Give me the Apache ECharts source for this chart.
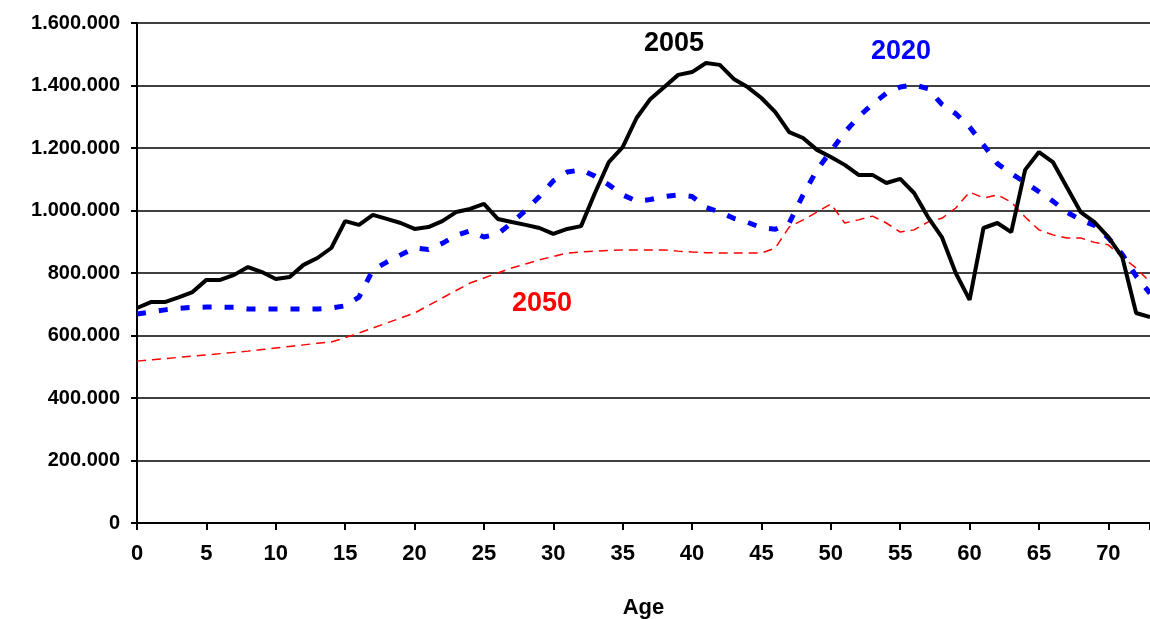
<!DOCTYPE html>
<html>
<head>
<meta charset="utf-8">
<script src="https://cdn.jsdelivr.net/npm/echarts@6/dist/echarts.min.js"></script>
<style>html,body{margin:0;padding:0;background:#fff}#chart{width:1150px;height:619px}</style>
</head>
<body>
<div id="chart"></div>
<script>
// Alter 0..73, Werte in Tausend
const ages = Array.from({length: 74}, (_, i) => i);
const y2005 = [688,707,707,722,739,778,778,794,819,803,781,787,826,848,880,966,954,986,973,960,941,947,966,995,1005,1021,973,963,954,944,925,941,950,1056,1155,1203,1296,1357,1395,1434,1443,1472,1466,1421,1395,1360,1315,1251,1232,1194,1171,1146,1114,1114,1088,1101,1056,979,915,800,714,944,960,931,1130,1187,1155,1075,995,963,915,851,672,659];
const y2020 = [669,675,682,687,690,691,691,690,685,685,685,685,685,685,688,695,723,810,835,858,880,875,895,920,935,915,925,960,1000,1045,1095,1123,1130,1110,1082,1050,1030,1035,1045,1050,1045,1010,995,975,962,945,940,960,1050,1130,1190,1250,1300,1340,1375,1395,1402,1390,1340,1310,1267,1210,1150,1118,1090,1060,1030,995,970,952,912,860,790,735];
const y2050 = [518,522,526,530,534,538,542,546,550,555,560,565,570,575,579,593,608,624,640,656,672,696,720,744,768,784,800,816,829,842,853,864,867,870,872,874,874,874,874,870,867,865,864,864,864,864,880,947,970,995,1021,960,970,982,960,931,938,963,975,1008,1059,1040,1050,1027,979,938,922,912,912,898,890,851,816,771];

const pair = arr => arr.map((v, i) => [ages[i], v * 1000]);
const fmt = v => String(v).replace(/\B(?=(\d{3})+(?!\d))/g, '.');

const chart = echarts.init(document.getElementById('chart'));
const font = 'Liberation Sans, Arial, sans-serif';
chart.setOption({
  animation: false,
  grid: {left: 137, top: 23, right: 0, bottom: 96, outerBoundsMode: 'none', containLabel: false},
  xAxis: {
    type: 'value', min: 0, max: 73, interval: 5,
    name: 'Age', nameLocation: 'middle', nameGap: 74,
    nameTextStyle: {fontFamily: font, fontWeight: 'bold', fontSize: 22, color: '#000'},
    axisLine: {lineStyle: {color: '#000', width: 2}},
    axisTick: {show: true, length: 7, lineStyle: {color: '#000', width: 2}},
    axisLabel: {fontFamily: font, fontWeight: 'bold', fontSize: 22, color: '#000', margin: 20,
      formatter: v => (v % 5 === 0 && v <= 70) ? v : ''},
    splitLine: {show: false}
  },
  yAxis: {
    type: 'value', min: 0, max: 1600000, interval: 200000,
    axisLine: {show: true, lineStyle: {color: '#000', width: 2}},
    axisTick: {show: true, length: 6, lineStyle: {color: '#000', width: 2}},
    axisLabel: {fontFamily: font, fontWeight: 'bold', fontSize: 20, color: '#000', margin: 17, formatter: fmt},
    splitLine: {lineStyle: {color: '#000', width: 1.5}}
  },
  series: [
    {name: '2050', type: 'line', data: pair(y2050), symbol: 'none',
      lineStyle: {color: '#ff0000', width: 1.5, type: [9, 6]}},
    {name: '2020', type: 'line', data: pair(y2020), symbol: 'none',
      lineStyle: {color: '#0000ff', width: 5, type: [9, 13]}},
    {name: '2005', type: 'line', data: pair(y2005), symbol: 'none',
      lineStyle: {color: '#000', width: 4}}
  ],
  graphic: [
    {type: 'text', left: 644, top: 30, style: {text: '2005', font: 'bold 27px ' + font, fill: '#000'}},
    {type: 'text', left: 871, top: 38, style: {text: '2020', font: 'bold 27px ' + font, fill: '#0000ff'}},
    {type: 'text', left: 512, top: 290, style: {text: '2050', font: 'bold 27px ' + font, fill: '#ff0000'}}
  ]
});
</script>
</body>
</html>
